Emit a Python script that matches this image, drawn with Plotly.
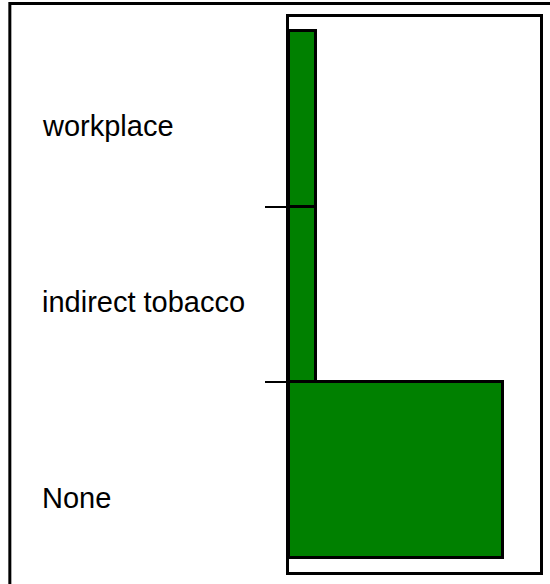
import plotly.graph_objects as go

categories = ["None", "indirect tobacco", "workplace"]
values = [8, 1, 1]

positions = list(range(len(categories)))
boundaries = [i + 0.5 for i in range(len(categories) - 1)]

W, H = 550, 584
L, R, T, B = 289, 7, 17, 12
pw, ph = W - L - R, H - T - B

def px_to_paper_x(px):
    return (px - L) / pw

def px_to_paper_y(py):
    return (H - B - py) / ph

fig = go.Figure(
    go.Bar(
        x=values,
        y=positions,
        orientation="h",
        width=1,
        marker=dict(color="#008000", line=dict(color="black", width=3)),
        hoverinfo="skip",
    )
)

# vertical nudge of each label (pixels), styling only
label_shift = [-28, -7, -7]
for pos, cat, sh in zip(positions, categories, label_shift):
    fig.add_annotation(
        x=px_to_paper_x(37), xref="paper", xanchor="left",
        y=pos, yref="y", yanchor="middle", yshift=sh,
        text=cat, showarrow=False,
        font=dict(family="Liberation Sans, Arial", size=29, color="black"),
    )

fig.add_shape(
    type="rect", xref="paper", yref="paper",
    x0=px_to_paper_x(6.5), x1=px_to_paper_x(600),
    y0=px_to_paper_y(640), y1=px_to_paper_y(3.5),
    line=dict(color="black", width=3), fillcolor="rgba(0,0,0,0)",
    layer="above",
)

fig.update_layout(
    width=W, height=H,
    margin=dict(l=L, r=R, t=T, b=B, pad=0),
    paper_bgcolor="white", plot_bgcolor="white",
    bargap=0, showlegend=False,
    font=dict(family="Liberation Sans, Arial", size=29, color="black"),
)
fig.update_xaxes(
    range=[0, 9.4], showgrid=False, zeroline=False, showticklabels=False,
    showline=True, linecolor="black", linewidth=3, mirror=True, ticks="",
)
fig.update_yaxes(
    range=[-0.581, 2.581], showgrid=False, zeroline=False,
    tickmode="array", tickvals=boundaries, ticktext=[""] * len(boundaries),
    ticks="outside", ticklen=21, tickwidth=2, tickcolor="black",
    showline=True, linecolor="black", linewidth=3, mirror=True,
)

fig.write_html(
    "out.html",
    config={"displayModeBar": False},
    post_script="document.body.style.margin='0';document.body.style.overflow='hidden';",
)
